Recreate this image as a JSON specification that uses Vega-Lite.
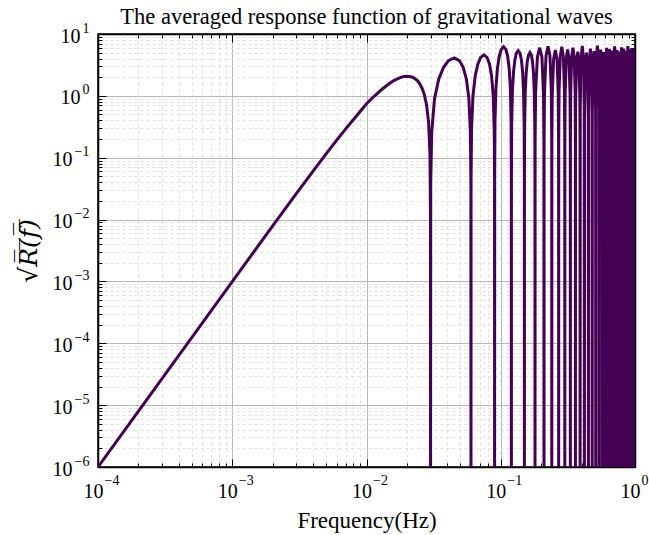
{
  "$schema": "https://vega.github.io/schema/vega-lite/v6.json",
  "width": 537,
  "height": 433,
  "autosize": {"type": "none"},
  "padding": {"left": 98, "top": 34, "right": 14, "bottom": 68},
  "background": "white",
  "title": {"text": "The averaged response function of gravitational waves", "fontSize": 22.5, "font": "Liberation Serif", "fontWeight": "normal", "color": "black", "offset": -7},
  "config": {"font": "Liberation Serif", "view": {"stroke": "black", "strokeWidth": 1.5}},
  "data": {"values": [
    {"f":0.0001,"r":0.000001},{"f":0.001,"r":0.000997},{"f":0.002,"r":0.0079},{"f":0.003,"r":0.0262},{"f":0.004,"r":0.0607},{"f":0.005,"r":0.115},{"f":0.006,"r":0.192},{"f":0.007,"r":0.292},{"f":0.008,"r":0.415},{"f":0.009,"r":0.565},{"f":0.01,"r":0.745},{"f":0.011,"r":0.915},{"f":0.012,"r":1.09},{"f":0.013,"r":1.268},{"f":0.014,"r":1.445},{"f":0.015,"r":1.612},{"f":0.016,"r":1.764},{"f":0.017,"r":1.891},{"f":0.018,"r":1.989},{"f":0.019,"r":2.053},{"f":0.02,"r":2.075},{"f":0.021,"r":2.06},{"f":0.022,"r":2.0},{"f":0.023,"r":1.896},{"f":0.024,"r":1.746},{"f":0.025,"r":1.55},{"f":0.026,"r":1.313},{"f":0.027,"r":1.035},{"f":0.028,"r":0.72},{"f":0.029,"r":0.374},{"f":0.0297,"r":0.115},{"f":0.02997,"r":0.0116},{"f":0.03,"r":1e-7},
    {"f":0.03009,"r":0.0386},{"f":0.0306,"r":0.257},{"f":0.0321,"r":0.894},{"f":0.0345,"r":1.861},{"f":0.0375,"r":2.899},{"f":0.0408,"r":3.711},{"f":0.045,"r":4.1},{"f":0.0492,"r":3.711},{"f":0.0525,"r":2.899},{"f":0.0555,"r":1.861},{"f":0.0579,"r":0.894},{"f":0.0594,"r":0.257},{"f":0.05991,"r":0.0386},{"f":0.06,"r":1e-7},
    {"f":0.06009,"r":0.0433},{"f":0.0606,"r":0.289},{"f":0.0621,"r":1.003},{"f":0.0645,"r":2.088},{"f":0.0675,"r":3.252},{"f":0.0708,"r":4.163},{"f":0.075,"r":4.6},{"f":0.0792,"r":4.163},{"f":0.0825,"r":3.252},{"f":0.0855,"r":2.088},{"f":0.0879,"r":1.003},{"f":0.0894,"r":0.289},{"f":0.08991,"r":0.0433},{"f":0.09,"r":1e-7},
    {"f":0.09009,"r":0.0584},{"f":0.0906,"r":0.389},{"f":0.0921,"r":1.352},{"f":0.0945,"r":2.815},{"f":0.0975,"r":4.383},{"f":0.1008,"r":5.611},{"f":0.105,"r":6.2},{"f":0.1092,"r":5.611},{"f":0.1125,"r":4.383},{"f":0.1155,"r":2.815},{"f":0.1179,"r":1.352},{"f":0.1194,"r":0.389},{"f":0.11991,"r":0.0584},{"f":0.12,"r":1e-7},
    {"f":0.12009,"r":0.0509},{"f":0.1206,"r":0.339},{"f":0.1221,"r":1.177},{"f":0.1245,"r":2.452},{"f":0.1275,"r":3.818},{"f":0.1308,"r":4.887},{"f":0.135,"r":5.4},{"f":0.1392,"r":4.887},{"f":0.1425,"r":3.818},{"f":0.1455,"r":2.452},{"f":0.1479,"r":1.177},{"f":0.1494,"r":0.339},{"f":0.14991,"r":0.0509},{"f":0.15,"r":1e-7},
    {"f":0.15009,"r":0.0471},{"f":0.1506,"r":0.314},{"f":0.1521,"r":1.09},{"f":0.1545,"r":2.27},{"f":0.1575,"r":3.535},{"f":0.1608,"r":4.525},{"f":0.165,"r":5.0},{"f":0.1692,"r":4.525},{"f":0.1725,"r":3.535},{"f":0.1755,"r":2.27},{"f":0.1779,"r":1.09},{"f":0.1794,"r":0.314},{"f":0.17991,"r":0.0471},{"f":0.18,"r":1e-7},
    {"f":0.1803,"r":0.188},{"f":0.1818,"r":1.12},{"f":0.1875,"r":4.24},{"f":0.195,"r":6.0},{"f":0.2025,"r":4.24},{"f":0.2082,"r":1.12},{"f":0.2097,"r":0.188},{"f":0.21,"r":1e-7},
    {"f":0.2103,"r":0.198},{"f":0.2118,"r":1.18},{"f":0.2175,"r":4.45},{"f":0.225,"r":6.3},{"f":0.2325,"r":4.45},{"f":0.2382,"r":1.18},{"f":0.2397,"r":0.198},{"f":0.24,"r":1e-7},
    {"f":0.2403,"r":0.173},{"f":0.2418,"r":1.03},{"f":0.2475,"r":3.89},{"f":0.255,"r":5.5},{"f":0.2625,"r":3.89},{"f":0.2682,"r":1.03},{"f":0.2697,"r":0.173},{"f":0.27,"r":1e-7},
    {"f":0.2703,"r":0.195},{"f":0.2718,"r":1.16},{"f":0.2775,"r":4.38},{"f":0.285,"r":6.2},{"f":0.2925,"r":4.38},{"f":0.2982,"r":1.16},{"f":0.2997,"r":0.195},{"f":0.3,"r":1e-7},
    {"f":0.3003,"r":0.176},{"f":0.3018,"r":1.05},{"f":0.3075,"r":3.96},{"f":0.315,"r":5.6},{"f":0.3225,"r":3.96},{"f":0.3282,"r":1.05},{"f":0.3297,"r":0.176},{"f":0.33,"r":1e-7},
    {"f":0.3303,"r":0.188},{"f":0.3318,"r":1.12},{"f":0.3375,"r":4.24},{"f":0.345,"r":6.0},{"f":0.3525,"r":4.24},{"f":0.3582,"r":1.12},{"f":0.3597,"r":0.188},{"f":0.36,"r":1e-7},
    {"f":0.3603,"r":0.163},{"f":0.3618,"r":0.97},{"f":0.3675,"r":3.68},{"f":0.375,"r":5.2},{"f":0.3825,"r":3.68},{"f":0.3882,"r":0.97},{"f":0.3897,"r":0.163},{"f":0.39,"r":1e-7},
    {"f":0.3909,"r":0.6},{"f":0.396,"r":3.76},{"f":0.405,"r":6.4},{"f":0.414,"r":3.76},{"f":0.4191,"r":0.6},{"f":0.42,"r":1e-7},
    {"f":0.4209,"r":0.47},{"f":0.426,"r":2.94},{"f":0.435,"r":5.0},{"f":0.444,"r":2.94},{"f":0.4491,"r":0.47},{"f":0.45,"r":1e-7},
    {"f":0.4509,"r":0.545},{"f":0.456,"r":3.41},{"f":0.465,"r":5.8},{"f":0.474,"r":3.41},{"f":0.4791,"r":0.545},{"f":0.48,"r":1e-7},
    {"f":0.4809,"r":0.498},{"f":0.486,"r":3.12},{"f":0.495,"r":5.3},{"f":0.504,"r":3.12},{"f":0.5091,"r":0.498},{"f":0.51,"r":1e-7},
    {"f":0.5109,"r":0.611},{"f":0.516,"r":3.82},{"f":0.525,"r":6.5},{"f":0.534,"r":3.82},{"f":0.5391,"r":0.611},{"f":0.54,"r":1e-7},
    {"f":0.5409,"r":0.526},{"f":0.546,"r":3.29},{"f":0.555,"r":5.6},{"f":0.564,"r":3.29},{"f":0.5691,"r":0.526},{"f":0.57,"r":1e-7},
    {"f":0.5709,"r":0.479},{"f":0.576,"r":3.0},{"f":0.585,"r":5.1},{"f":0.594,"r":3.0},{"f":0.5991,"r":0.479},{"f":0.6,"r":1e-7},
    {"f":0.6009,"r":0.564},{"f":0.606,"r":3.53},{"f":0.615,"r":6.0},{"f":0.624,"r":3.53},{"f":0.6291,"r":0.564},{"f":0.63,"r":1e-7},
    {"f":0.6309,"r":0.536},{"f":0.636,"r":3.35},{"f":0.645,"r":5.7},{"f":0.654,"r":3.35},{"f":0.6591,"r":0.536},{"f":0.66,"r":1e-7},
    {"f":0.6609,"r":0.508},{"f":0.666,"r":3.18},{"f":0.675,"r":5.4},{"f":0.684,"r":3.18},{"f":0.6891,"r":0.508},{"f":0.69,"r":1e-7},
    {"f":0.6909,"r":0.592},{"f":0.696,"r":3.7},{"f":0.705,"r":6.3},{"f":0.714,"r":3.7},{"f":0.7191,"r":0.592},{"f":0.72,"r":1e-7},
    {"f":0.7209,"r":0.517},{"f":0.726,"r":3.23},{"f":0.735,"r":5.5},{"f":0.744,"r":3.23},{"f":0.7491,"r":0.517},{"f":0.75,"r":1e-7},
    {"f":0.7509,"r":0.489},{"f":0.756,"r":3.06},{"f":0.765,"r":5.2},{"f":0.774,"r":3.06},{"f":0.7791,"r":0.489},{"f":0.78,"r":1e-7},
    {"f":0.7809,"r":0.573},{"f":0.786,"r":3.59},{"f":0.795,"r":6.1},{"f":0.804,"r":3.59},{"f":0.8091,"r":0.573},{"f":0.81,"r":1e-7},
    {"f":0.8109,"r":0.545},{"f":0.816,"r":3.41},{"f":0.825,"r":5.8},{"f":0.834,"r":3.41},{"f":0.8391,"r":0.545},{"f":0.84,"r":1e-7},
    {"f":0.8409,"r":0.498},{"f":0.846,"r":3.12},{"f":0.855,"r":5.3},{"f":0.864,"r":3.12},{"f":0.8691,"r":0.498},{"f":0.87,"r":1e-7},
    {"f":0.8709,"r":0.6},{"f":0.876,"r":3.76},{"f":0.885,"r":6.4},{"f":0.894,"r":3.76},{"f":0.8991,"r":0.6},{"f":0.9,"r":1e-7},
    {"f":0.9009,"r":0.526},{"f":0.906,"r":3.29},{"f":0.915,"r":5.6},{"f":0.924,"r":3.29},{"f":0.9291,"r":0.526},{"f":0.93,"r":1e-7},
    {"f":0.9309,"r":0.555},{"f":0.936,"r":3.47},{"f":0.945,"r":5.9},{"f":0.954,"r":3.47},{"f":0.9591,"r":0.555},{"f":0.96,"r":1e-7},
    {"f":0.9609,"r":0.536},{"f":0.966,"r":3.35},{"f":0.975,"r":5.7},{"f":0.984,"r":3.35},{"f":0.9891,"r":0.536},{"f":0.99,"r":1e-7},
    {"f":0.9909,"r":0.55},{"f":0.996,"r":3.4},{"f":1.0,"r":5.0}
  ]},
  "layer": [
    {
      "mark": {"type": "line", "color": "#440154", "strokeWidth": 3, "clip": true},
      "encoding": {
        "x": {"field": "f", "type": "quantitative",
          "scale": {"type": "log", "domain": [0.0001, 1], "nice": false},
          "axis": {"orient": "bottom", "title": "Frequency(Hz)", "titleFontSize": 23, "titleFontWeight": "normal", "titleColor": "black", "titlePadding": 4,
            "values": [0.0001,0.0002,0.0003,0.0004,0.0005,0.0006,0.0007,0.0008,0.0009,0.001,0.002,0.003,0.004,0.005,0.006,0.007,0.008,0.009,0.01,0.02,0.03,0.04,0.05,0.06,0.07,0.08,0.09,0.1,0.2,0.3,0.4,0.5,0.6,0.7,0.8,0.9,1],
            "labelExpr": "abs(log(datum.value)/LN10 - round(log(datum.value)/LN10)) > 0.001 ? '' : '10'",
            "labelFontSize": 20, "labelColor": "black", "labelPadding": 22, "labelOffset": -5, "labelFlush": false, "labelOverlap": false,
            "tickColor": "black", "tickWidth": 1,
            "tickSize": {"condition": {"test": "abs(log(datum.value)/LN10 - round(log(datum.value)/LN10)) < 0.001", "value": -8}, "value": -4},
            "grid": true,
            "gridColor": {"condition": {"test": "abs(log(datum.value)/LN10 - round(log(datum.value)/LN10)) < 0.001", "value": "#b8b8b8"}, "value": "#e0e0e0"},
            "gridDash": {"condition": {"test": "abs(log(datum.value)/LN10 - round(log(datum.value)/LN10)) < 0.001", "value": []}, "value": [3, 3]},
            "domainColor": "black", "domainWidth": 1.5}},
        "y": {"field": "r", "type": "quantitative",
          "scale": {"type": "log", "domain": [0.000001, 10], "nice": false},
          "axis": {"orient": "left", "title": "√R̅(̅f̅)̅", "titleFont": "DejaVu Serif", "titleFontStyle": "italic", "titleFontSize": 25, "titleFontWeight": "normal", "titleColor": "black", "titlePadding": 11,
            "values": [0.000001,0.000002,0.000003,0.000004,0.000005,0.000006,0.000007,0.000008,0.000009,0.00001,0.00002,0.00003,0.00004,0.00005,0.00006,0.00007,0.00008,0.00009,0.0001,0.0002,0.0003,0.0004,0.0005,0.0006,0.0007,0.0008,0.0009,0.001,0.002,0.003,0.004,0.005,0.006,0.007,0.008,0.009,0.01,0.02,0.03,0.04,0.05,0.06,0.07,0.08,0.09,0.1,0.2,0.3,0.4,0.5,0.6,0.7,0.8,0.9,1,2,3,4,5,6,7,8,9,10],
            "labelExpr": "abs(log(datum.value)/LN10 - round(log(datum.value)/LN10)) > 0.001 ? '' : '10'",
            "labelFontSize": 20, "labelColor": "black", "labelOffset": 2,
            "labelPadding": {"condition": {"test": "datum.value < 0.5", "value": 34}, "value": 26},
            "labelFlush": false, "labelOverlap": false,
            "tickColor": "black", "tickWidth": 1,
            "tickSize": {"condition": {"test": "abs(log(datum.value)/LN10 - round(log(datum.value)/LN10)) < 0.001", "value": -8}, "value": -4},
            "grid": true,
            "gridColor": {"condition": {"test": "abs(log(datum.value)/LN10 - round(log(datum.value)/LN10)) < 0.001", "value": "#b8b8b8"}, "value": "#e0e0e0"},
            "gridDash": {"condition": {"test": "abs(log(datum.value)/LN10 - round(log(datum.value)/LN10)) < 0.001", "value": []}, "value": [3, 3]},
            "domainColor": "black", "domainWidth": 1.5}}
      }
    },
    {
      "mark": {"type": "line", "opacity": 0, "clip": true},
      "encoding": {
        "x": {"field": "f", "type": "quantitative",
          "axis": {"orient": "top", "title": null, "labels": false, "grid": false,
            "values": [0.0001,0.0002,0.0003,0.0004,0.0005,0.0006,0.0007,0.0008,0.0009,0.001,0.002,0.003,0.004,0.005,0.006,0.007,0.008,0.009,0.01,0.02,0.03,0.04,0.05,0.06,0.07,0.08,0.09,0.1,0.2,0.3,0.4,0.5,0.6,0.7,0.8,0.9,1],
            "tickColor": "black", "tickWidth": 1,
            "tickSize": {"condition": {"test": "abs(log(datum.value)/LN10 - round(log(datum.value)/LN10)) < 0.001", "value": -8}, "value": -4},
            "domainColor": "black", "domainWidth": 1.5}},
        "y": {"field": "r", "type": "quantitative",
          "axis": {"orient": "right", "title": null, "labels": false, "grid": false,
            "values": [0.000001,0.000002,0.000003,0.000004,0.000005,0.000006,0.000007,0.000008,0.000009,0.00001,0.00002,0.00003,0.00004,0.00005,0.00006,0.00007,0.00008,0.00009,0.0001,0.0002,0.0003,0.0004,0.0005,0.0006,0.0007,0.0008,0.0009,0.001,0.002,0.003,0.004,0.005,0.006,0.007,0.008,0.009,0.01,0.02,0.03,0.04,0.05,0.06,0.07,0.08,0.09,0.1,0.2,0.3,0.4,0.5,0.6,0.7,0.8,0.9,1,2,3,4,5,6,7,8,9,10],
            "tickColor": "black", "tickWidth": 1,
            "tickSize": {"condition": {"test": "abs(log(datum.value)/LN10 - round(log(datum.value)/LN10)) < 0.001", "value": -8}, "value": -4},
            "domainColor": "black", "domainWidth": 1.5}}
      }
    },
    {
      "mark": {"type": "line", "opacity": 0, "clip": true},
      "encoding": {
        "x": {"field": "f", "type": "quantitative",
          "axis": {"orient": "bottom", "title": null, "grid": false, "domain": false,
            "values": [0.0001,0.001,0.01,0.1,1],
            "labelExpr": "['−6','−5','−4','−3','−2','−1','0','1'][round(log(datum.value)/LN10) + 6]",
            "labelFontSize": 14, "labelColor": "black", "labelAlign": "left", "labelOffset": 6, "labelPadding": 10, "labelFlush": false, "labelOverlap": false,
            "tickSize": -4, "tickOpacity": 0}},
        "y": {"field": "r", "type": "quantitative",
          "axis": {"orient": "left", "title": null, "grid": false, "domain": false,
            "values": [0.000001,0.00001,0.0001,0.001,0.01,0.1,1,10],
            "labelExpr": "['−6','−5','−4','−3','−2','−1','0','1'][round(log(datum.value)/LN10) + 6]",
            "labelFontSize": 14, "labelColor": "black", "labelAlign": "right", "labelOffset": -6, "labelPadding": 13, "labelFlush": false, "labelOverlap": false,
            "tickSize": -4, "tickOpacity": 0}}
      }
    }
  ],
  "resolve": {"axis": {"x": "independent", "y": "independent"}}
}
